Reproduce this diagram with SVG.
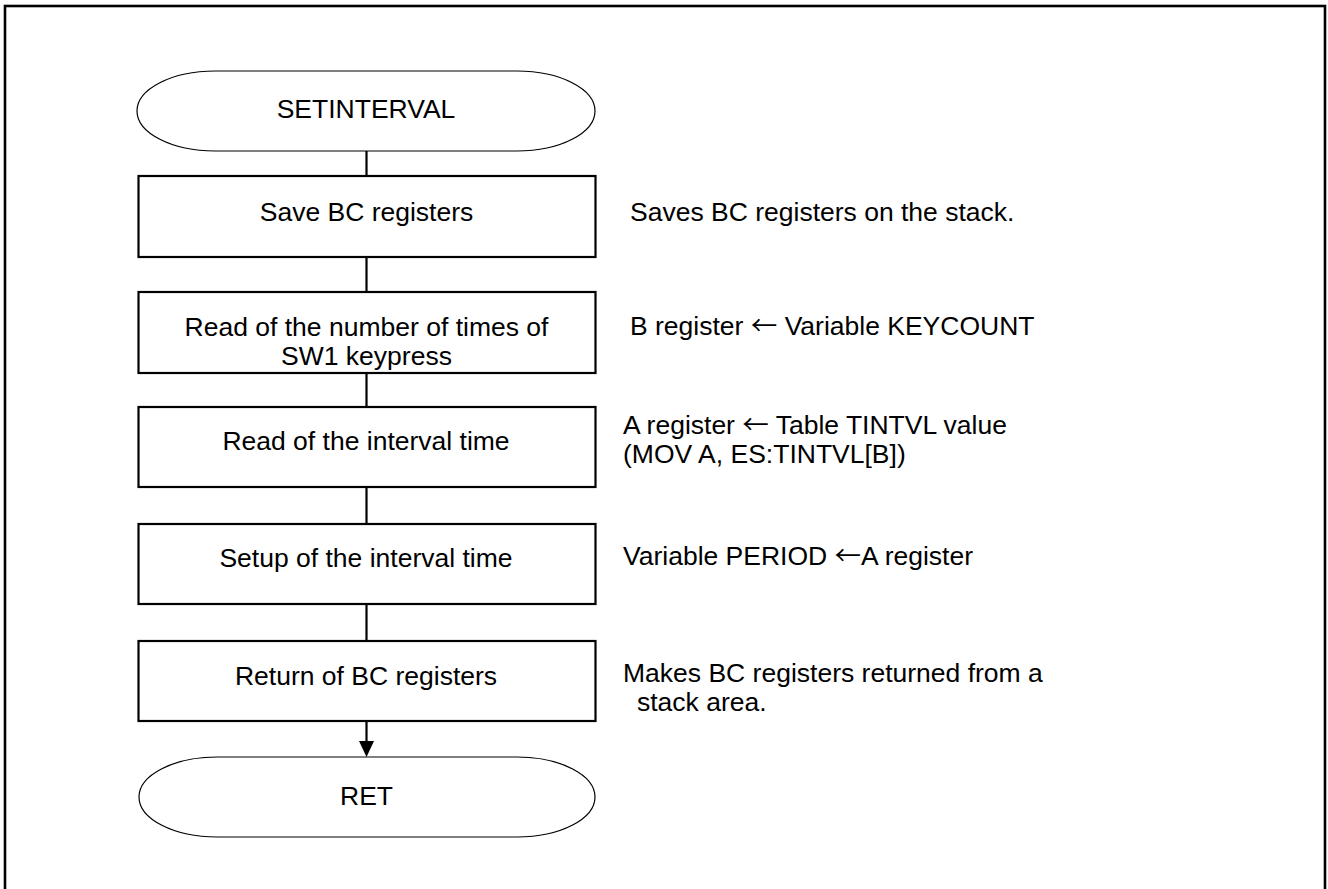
<svg xmlns="http://www.w3.org/2000/svg" width="1328" height="889" viewBox="0 0 1328 889">
<style>
text{font-family:"Liberation Sans",Arial,sans-serif;font-size:26.5px;fill:#000}
.c{text-anchor:middle}
.ar{font-family:"Noto Sans CJK JP","Liberation Sans",sans-serif}
.box{fill:#fff;stroke:#000;stroke-width:2.2}
.term{fill:#fff;stroke:#000;stroke-width:1.2}
.conn{stroke:#000;stroke-width:2.2;fill:none}
</style>
<rect width="1328" height="889" fill="#fff"/>
<rect x="5" y="6" width="1320" height="900" fill="none" stroke="#000" stroke-width="2.6"/>
<g id="connectors">
<line class="conn" x1="366.5" y1="151" x2="366.5" y2="176"/>
<line class="conn" x1="366.5" y1="257" x2="366.5" y2="292"/>
<line class="conn" x1="366.5" y1="373" x2="366.5" y2="407"/>
<line class="conn" x1="366.5" y1="487" x2="366.5" y2="524"/>
<line class="conn" x1="366.5" y1="604" x2="366.5" y2="641"/>
<line class="conn" x1="366.5" y1="721" x2="366.5" y2="742"/>
<path d="M359,741 L374,741 L366.5,757 Z" fill="#000"/>
</g>
<g id="start">
<path class="term" d="M215,71 H517 A78 40 0 0 1 517,151 H215 A78 40 0 0 1 215,71 Z"/>
<text class="c" x="366" y="118">SETINTERVAL</text>
</g>
<g id="save">
<rect class="box" x="138.5" y="176" width="457" height="81"/>
<text class="c" x="366.5" y="221">Save BC registers</text>
</g>
<g id="readcount">
<rect class="box" x="138.5" y="292" width="457" height="81"/>
<text class="c" x="366.5" y="336">Read of the number of times of</text>
<text class="c" x="366.5" y="365">SW1 keypress</text>
</g>
<g id="readinterval">
<rect class="box" x="138.5" y="407" width="457" height="80"/>
<text class="c" x="366" y="450">Read of the interval time</text>
</g>
<g id="setupinterval">
<rect class="box" x="138.5" y="524" width="457" height="80"/>
<text class="c" x="366" y="567">Setup of the interval time</text>
</g>
<g id="returnbc">
<rect class="box" x="138.5" y="641" width="457" height="80"/>
<text class="c" x="366" y="685">Return of BC registers</text>
</g>
<g id="ret">
<path class="term" d="M217,757 H517 A78 40 0 0 1 517,837 H217 A78 40 0 0 1 217,757 Z"/>
<text class="c" x="366.5" y="805">RET</text>
</g>
<g id="notes">
<text x="630" y="221">Saves BC registers on the stack.</text>
<text x="630" y="335">B register <tspan class="ar">←</tspan> Variable KEYCOUNT</text>
<text x="623" y="434">A register <tspan class="ar">←</tspan> Table TINTVL value</text>
<text x="623" y="463">(MOV A, ES:TINTVL[B])</text>
<text x="623" y="565">Variable PERIOD <tspan class="ar">←</tspan>A register</text>
<text x="623" y="682">Makes BC registers returned from a</text>
<text x="637" y="711">stack area.</text>
</g>
</svg>
